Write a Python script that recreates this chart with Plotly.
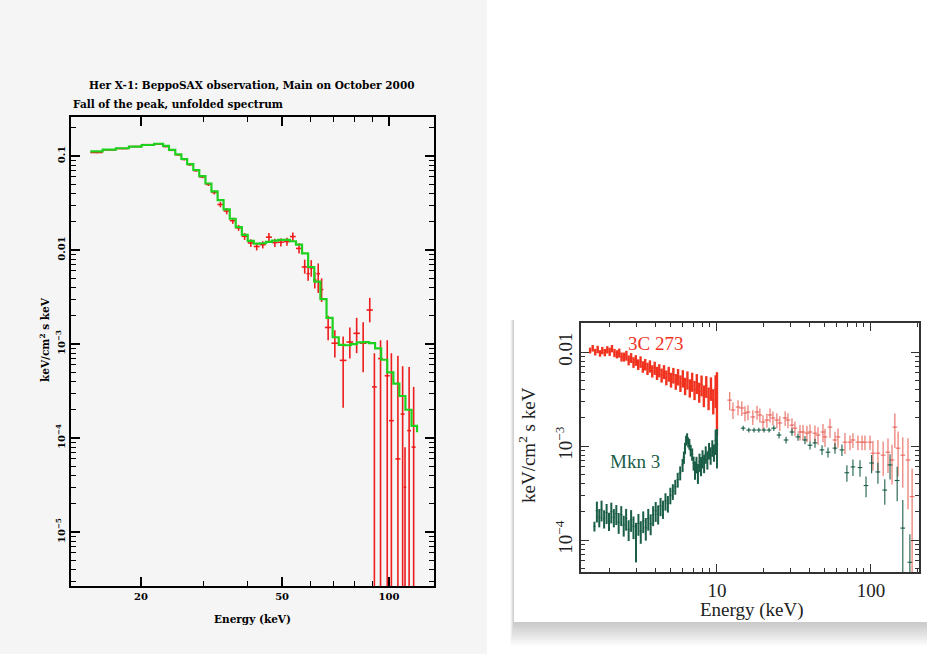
import plotly.graph_objects as go

W, H = 927, 654

# ---------------- Her X-1, BeppoSAX (left panel) ----------------
# model: step histogram, left bin edges (keV) and flux in each bin
model_e = [14.4, 15.6, 17.0, 18.5, 20.1, 21.8, 23.1, 24.0, 25.0, 26.0, 27.0, 28.1,
           29.2, 30.4, 31.6, 32.9, 34.2, 35.6, 37.0, 38.5, 40.0, 41.6, 43.3, 45.0,
           46.8, 48.7, 50.6, 52.6, 54.7, 56.9, 59.2, 61.6, 64.1, 66.7, 69.4, 72.2,
           75.1, 78.1, 81.2, 84.5, 87.9, 91.4, 95.1, 98.9, 102.9, 107.0, 111.3,
           115.8, 120.0]
model_f = [0.112, 0.117, 0.121, 0.126, 0.131, 0.135, 0.128, 0.116, 0.104, 0.093,
           0.082, 0.071, 0.061, 0.051, 0.042, 0.034, 0.027, 0.0215, 0.0175, 0.0145,
           0.0125, 0.0117, 0.0118, 0.0122, 0.0126, 0.0128, 0.0128, 0.0124, 0.0114,
           0.0092, 0.0066, 0.0046, 0.0030, 0.0019, 0.00118, 0.00098, 0.00097,
           0.00100, 0.00104, 0.00105, 0.00102, 0.00090, 0.00068, 0.00050, 0.00038,
           0.00028, 0.00020, 0.000135, 0.000115]

# data points: energy, flux, lower / upper bound, half bin width
her_e = [15.0, 16.3, 17.7, 19.3, 20.9, 22.4, 23.5, 24.5, 25.5, 26.5, 27.5, 28.6,
         29.8, 31.0, 32.2, 33.5, 34.9, 36.3, 37.7, 39.2, 40.8, 42.4, 44.1, 45.9,
         47.7, 49.6, 51.6, 53.6, 55.8, 57.9, 59.2, 60.4, 61.8, 63.2, 64.6, 67.4,
         70.4, 74.3, 77.6, 81.1, 84.6, 88.3, 91.0, 94.7, 98.9, 101.6, 106.0,
         109.3, 111.0, 114.0, 117.4]
her_f = [0.109, 0.116, 0.120, 0.126, 0.132, 0.134, 0.126, 0.115, 0.103, 0.092,
         0.081, 0.070, 0.060, 0.050, 0.041, 0.0305, 0.0260, 0.0205, 0.0172, 0.0140,
         0.0119, 0.0109, 0.0114, 0.0137, 0.0120, 0.0121, 0.0123, 0.0139, 0.0104,
         0.0066, 0.0056, 0.0064, 0.0048, 0.0056, 0.0038, 0.0015, 0.00102, 0.00067,
         0.00105, 0.0013, 0.00102, 0.0023, 0.00035, 0.00070, 0.00046, 0.000153,
         6.0e-5, 0.00018, 3.0e-5, 0.00012, 8.0e-5]
her_lo = [0.107, 0.114, 0.118, 0.124, 0.130, 0.132, 0.124, 0.113, 0.101, 0.090,
          0.079, 0.068, 0.058, 0.048, 0.039, 0.0285, 0.0240, 0.0190, 0.0160, 0.0128,
          0.0108, 0.0099, 0.0104, 0.0122, 0.0108, 0.0109, 0.0111, 0.0124, 0.0092,
          0.0056, 0.0047, 0.0052, 0.0039, 0.0035, 0.0028, 0.0011, 0.00072, 0.00021,
          0.00070, 0.00080, 0.00050, 0.0017, 1e-6, 1e-6, 1e-6, 1e-6, 1e-6, 1e-6,
          1e-6, 1e-6, 1e-6]
her_hi = [0.111, 0.118, 0.122, 0.128, 0.134, 0.136, 0.128, 0.117, 0.105, 0.094,
          0.083, 0.072, 0.062, 0.052, 0.043, 0.0325, 0.0280, 0.0220, 0.0185, 0.0152,
          0.0130, 0.0119, 0.0124, 0.0152, 0.0132, 0.0133, 0.0135, 0.0154, 0.0118,
          0.0079, 0.0066, 0.0078, 0.0058, 0.0072, 0.0050, 0.0020, 0.0014, 0.0012,
          0.0015, 0.0019, 0.0017, 0.0031, 0.00080, 0.0011, 0.0011, 0.00080,
          0.00075, 0.00058, 8.0e-5, 0.00057, 0.00035]
her_dx = [0.6, 0.65, 0.7, 0.75, 0.8, 0.7, 0.45, 0.5, 0.5, 0.5, 0.5, 0.55, 0.6, 0.6,
          0.6, 0.65, 0.7, 0.7, 0.75, 0.75, 0.8, 0.8, 0.85, 0.9, 0.9, 0.95, 1.0, 1.0,
          1.1, 1.1, 0.6, 0.6, 0.7, 0.7, 0.7, 1.4, 1.5, 1.6, 1.7, 1.7, 1.8, 1.8, 1.4,
          1.5, 1.6, 1.6, 1.7, 1.4, 0.9, 1.4, 1.5]

# ---------------- 3C 273 and Mkn 3 (right panel) ----------------
c273_e = [1.50, 1.56, 1.62, 1.68, 1.74, 1.80, 1.87, 1.94, 2.01, 2.08, 2.16, 2.24,
          2.32, 2.40, 2.49, 2.58, 2.67, 2.77, 2.87, 2.97, 3.08, 3.19, 3.30, 3.42,
          3.54, 3.67, 3.80, 3.94, 4.08, 4.22, 4.37, 4.53, 4.69, 4.86, 5.03, 5.21,
          5.40, 5.59, 5.79, 6.00, 6.21, 6.43, 6.66, 6.90, 7.15, 7.40, 7.67, 7.94,
          8.22, 8.52, 8.82, 9.14, 9.46, 9.80, 10.0]
c273_f = [0.0104, 0.0110, 0.0100, 0.0107, 0.0097, 0.0104, 0.0099, 0.0106, 0.0101,
          0.0109, 0.0098, 0.0095, 0.0098, 0.0089, 0.0089, 0.0092, 0.0082, 0.0087,
          0.0078, 0.0082, 0.0074, 0.0079, 0.0070, 0.0074, 0.0067, 0.0071, 0.0063,
          0.0068, 0.0060, 0.0064, 0.0057, 0.0062, 0.0054, 0.0059, 0.0051, 0.0057,
          0.0049, 0.0055, 0.0047, 0.0053, 0.0044, 0.0051, 0.0042, 0.0049, 0.0040,
          0.0047, 0.0038, 0.0045, 0.0035, 0.0044, 0.0033, 0.0042, 0.0031, 0.0041,
          0.0037]
c273_rel = [0.07, 0.08, 0.08, 0.09, 0.08, 0.09, 0.09, 0.09, 0.1, 0.09, 0.1, 0.1,
            0.11, 0.11, 0.11, 0.12, 0.12, 0.12, 0.13, 0.13, 0.13, 0.14, 0.14, 0.14,
            0.15, 0.15, 0.15, 0.16, 0.16, 0.16, 0.17, 0.17, 0.18, 0.18, 0.18, 0.19,
            0.19, 0.2, 0.2, 0.21, 0.21, 0.22, 0.22, 0.23, 0.23, 0.24, 0.24, 0.25,
            0.26, 0.26, 0.27, 0.28, 0.3, 0.38, 0.65]

mkn3_e = [1.60, 1.66, 1.72, 1.78, 1.85, 1.92, 1.99, 2.06, 2.14, 2.22, 2.30, 2.39,
          2.48, 2.57, 2.67, 2.77, 2.87, 2.98, 3.09, 3.20, 3.32, 3.45, 3.58, 3.71,
          3.85, 4.00, 4.15, 4.30, 4.46, 4.63, 4.80, 4.98, 5.17, 5.36, 5.56, 5.77,
          5.98, 6.10, 6.20, 6.30, 6.40, 6.50, 6.62, 6.75, 6.90, 7.05, 7.20, 7.36,
          7.52, 7.70, 7.88, 8.06, 8.25, 8.45, 8.66, 8.88, 9.10, 9.33, 9.56, 9.80,
          10.0]
mkn3_f = [1.40e-4, 2.05e-4, 1.75e-4, 2.10e-4, 1.70e-4, 1.95e-4, 1.60e-4, 2.00e-4,
          1.75e-4, 1.90e-4, 1.55e-4, 1.85e-4, 1.45e-4, 1.70e-4, 1.30e-4, 1.65e-4,
          1.40e-4, 1.05e-4, 1.50e-4, 1.25e-4, 1.60e-4, 1.35e-4, 1.70e-4, 1.50e-4,
          1.85e-4, 2.05e-4, 1.90e-4, 2.30e-4, 2.15e-4, 2.60e-4, 2.45e-4, 3.00e-4,
          3.30e-4, 3.70e-4, 4.40e-4, 5.20e-4, 6.30e-4, 7.60e-4, 9.50e-4, 1.15e-3,
          1.22e-3, 1.10e-3, 1.05e-3, 9.0e-4, 8.2e-4, 6.6e-4, 5.6e-4, 6.4e-4, 5.2e-4,
          6.8e-4, 6.2e-4, 7.4e-4, 6.6e-4, 8.2e-4, 7.2e-4, 9.0e-4, 8.0e-4, 9.6e-4,
          8.6e-4, 1.15e-3, 1.05e-3]
mkn3_rel = [0.12, 0.25, 0.22, 0.25, 0.22, 0.24, 0.22, 0.25, 0.22, 0.24, 0.25, 0.24,
            0.25, 0.26, 0.25, 0.26, 0.27, 0.45, 0.26, 0.27, 0.26, 0.27, 0.26, 0.25,
            0.24, 0.24, 0.23, 0.22, 0.22, 0.21, 0.2, 0.2, 0.19, 0.18, 0.18, 0.17,
            0.16, 0.15, 0.14, 0.12, 0.12, 0.12, 0.13, 0.14, 0.15, 0.17, 0.22, 0.2,
            0.24, 0.22, 0.23, 0.22, 0.22, 0.21, 0.22, 0.2, 0.21, 0.2, 0.21, 0.3, 0.45]

c273_hx_e = [12.1, 12.7, 13.7, 14.5, 15.2, 15.9, 17.1, 18.2, 19.0, 19.9, 21.1, 22.1,
             23.1, 24.5, 25.6, 27.7, 28.9, 30.7, 32.1, 34.6, 36.2, 38.4, 40.2, 43.3,
             45.3, 48.8, 50.3, 54.2, 58.4, 61.1, 67.8, 73.1, 76.4, 82.3, 87.5, 91.4,
             98.6, 103, 111, 120, 129, 137, 143, 150, 161, 174, 185]
c273_hx_f = [0.00308, 0.00242, 0.0026, 0.00254, 0.00224, 0.0023, 0.00204, 0.0023,
             0.00214, 0.0018, 0.00189, 0.00214, 0.00199, 0.00189, 0.00176, 0.00199,
             0.00189, 0.00167, 0.00155, 0.00141, 0.00141, 0.00137, 0.00141, 0.00137,
             0.00131, 0.00141, 0.00125, 0.00159, 0.00116, 0.00125, 0.0011, 0.0011,
             0.00116, 0.0011, 0.0011, 0.0011, 0.0011, 0.00084, 0.00084, 0.0008,
             0.00086, 0.00071, 0.00159, 0.00095, 0.0008, 0.00071, 0.00029]
c273_hx_rel = [0.22, 0.2, 0.18, 0.18, 0.18, 0.18, 0.18, 0.17, 0.17, 0.18, 0.17, 0.17,
               0.17, 0.18, 0.18, 0.18, 0.18, 0.18, 0.18, 0.19, 0.19, 0.2, 0.2, 0.21,
               0.21, 0.22, 0.22, 0.23, 0.22, 0.23, 0.25, 0.18, 0.18, 0.18, 0.18,
               0.18, 0.18, 0.35, 0.38, 0.4, 0.4, 0.45, 0.4, 0.5, 0.55, 0.7, 0.99]

mkn3_hx_e = [14.8, 16.1, 17.4, 18.7, 20.2, 21.8, 23.4, 25.3, 28.1, 30.7, 33.6, 37.3,
             40.2, 43.3, 48.1, 52.6, 58.4, 64.8, 69.8, 76.4, 84.9, 92.9, 101, 111,
             123, 133, 148, 161, 179]
mkn3_hx_f = [0.00155, 0.00148, 0.00148, 0.00148, 0.00148, 0.00148, 0.00155, 0.00131,
             0.00116, 0.00141, 0.00125, 0.00116, 0.00102, 0.00108, 0.00091, 0.00086,
             0.00095, 0.00091, 0.00052, 0.0006, 0.00059, 0.00038, 0.00066, 0.00053,
             0.00034, 0.00063, 0.00043, 0.000134, 5.8e-5]
mkn3_hx_rel = [0.06, 0.06, 0.06, 0.06, 0.06, 0.06, 0.07, 0.08, 0.08, 0.09, 0.09, 0.1,
               0.1, 0.11, 0.12, 0.12, 0.13, 0.14, 0.2, 0.2, 0.2, 0.25, 0.22, 0.25,
               0.3, 0.3, 0.4, 0.99, 0.99]

RED = "#ee1c1c"
GREEN = "#1fd11f"
C_RED = "#f0321e"
C_RED_LT = "#e86a60"
TEAL = "#1a5e48"


def errs(f, rel):
    return [v * r for v, r in zip(f, rel)]


fig = go.Figure()

# left: data with error bars, then model on top
fig.add_trace(go.Scatter(
    x=her_e, y=her_f, mode="markers",
    marker=dict(size=1, color=RED),
    error_y=dict(type="data", symmetric=False,
                 array=[h - f for h, f in zip(her_hi, her_f)],
                 arrayminus=[f - l for f, l in zip(her_f, her_lo)],
                 color=RED, thickness=1.6, width=0),
    error_x=dict(type="data", array=her_dx, color=RED, thickness=1.6, width=0),
    xaxis="x", yaxis="y", showlegend=False))
fig.add_trace(go.Scatter(
    x=model_e, y=model_f + [model_f[-1]], mode="lines", line_shape="hv",
    line=dict(color=GREEN, width=2.2), xaxis="x", yaxis="y", showlegend=False))

# right: 3C 273 and Mkn 3
for e, f, rel, col, th, tx in [(c273_e, c273_f, c273_rel, C_RED, 2.4, 0.8),
                               (mkn3_e, mkn3_f, mkn3_rel, TEAL, 2.0, 0.8),
                               (c273_hx_e, c273_hx_f, c273_hx_rel, C_RED_LT, 1.1, 1.1),
                               (mkn3_hx_e, mkn3_hx_f, mkn3_hx_rel, TEAL, 1.1, 1.1)]:
    dx = [v * (0.019 if v < 11 else 0.035) for v in e]
    fig.add_trace(go.Scatter(
        x=e, y=f, mode="markers", marker=dict(size=1, color=col),
        error_y=dict(type="data", array=errs(f, rel), color=col, thickness=th, width=0),
        error_x=dict(type="data", array=dx, color=col, thickness=tx, width=0),
        xaxis="x2", yaxis="y2", showlegend=False))


def px(x):
    return x / W


def py(y):
    return 1 - y / H


def note(text, x, y, font, angle=0, anchor="center"):
    return dict(text=text, x=px(x), y=py(y), xref="paper", yref="paper",
                showarrow=False, xanchor=anchor, yanchor="middle",
                textangle=angle, font=font)


LFONT = dict(family="DejaVu Serif", size=10.5, color="black")
RFONT = dict(family="Liberation Serif", size=19, color="#222")

left_ax = dict(type="log", showgrid=False, zeroline=False, showline=True,
               linecolor="black", linewidth=2, mirror="ticks", ticks="inside",
               ticklen=9, tickwidth=1.5, tickcolor="black",
               tickfont=dict(family="DejaVu Serif", size=10, color="black"))
right_ax = dict(type="log", showgrid=False, zeroline=False, showline=True,
                linecolor="#333", linewidth=1.5, mirror="ticks", ticks="inside",
                ticklen=8, tickwidth=1.2, tickcolor="#333",
                tickfont=dict(family="Liberation Serif", size=19, color="#222"))

# soft drop shadow under the right-hand panel, then the white card itself
shadow = [dict(type="rect", xref="paper", yref="paper", x0=px(514 - k * 0.4), x1=1,
               y0=py(622 + k * 2.6), y1=py(320),
               fillcolor="rgba(0,0,0,0.022)", line_width=0, layer="below")
          for k in range(9, 0, -1)]

fig.update_layout(
    width=W, height=H, margin=dict(l=0, r=0, t=0, b=0),
    paper_bgcolor="white", plot_bgcolor="rgba(0,0,0,0)",
    xaxis=dict(left_ax, domain=[px(71), px(434)], anchor="y", range=[1.104, 2.127],
               tickmode="array", tickvals=[20, 50, 100],
               ticktext=["<b>20</b>", "<b>50</b>", "<b>100</b>"],
               minor=dict(tickvals=[30, 40, 60, 70, 80, 90], ticklen=5, ticks="inside",
                          tickcolor="black", tickwidth=1.2)),
    yaxis=dict(left_ax, domain=[py(586), py(117)], anchor="x", range=[-5.574, -0.585],
               tickmode="array", tickvals=[0.1, 0.01, 1e-3, 1e-4, 1e-5],
               ticktext=["<b>0.1</b>", "<b>0.01</b>", "<b>10<sup>−3</sup></b>",
                         "<b>10<sup>−4</sup></b>", "<b>10<sup>−5</sup></b>"],
               tickangle=-90,
               minor=dict(tickvals=[k * 10.0 ** p for p in range(-6, 0) for k in range(2, 10)],
                          ticklen=5, ticks="inside", tickcolor="black", tickwidth=1.2)),
    xaxis2=dict(right_ax, domain=[px(581), px(919)], anchor="y2", range=[0.117, 2.312],
                tickmode="array", tickvals=[10, 100], ticktext=["10", "100"],
                minor=dict(tickvals=[k * 10.0 ** p for p in range(0, 3) for k in range(2, 10)],
                           ticklen=4, ticks="inside", tickcolor="#333", tickwidth=1.1)),
    yaxis2=dict(right_ax, domain=[py(572), py(323)], anchor="x2", range=[-4.34, -1.691],
                tickmode="array", tickvals=[0.01, 1e-3, 1e-4],
                ticktext=["0.01", "10<sup>−3</sup>", "10<sup>−4</sup>"], tickangle=-90,
                minor=dict(tickvals=[k * 10.0 ** p for p in range(-5, -1) for k in range(2, 10)],
                           ticklen=4, ticks="inside", tickcolor="#333", tickwidth=1.1)),
    shapes=[dict(type="rect", xref="paper", yref="paper", x0=0, x1=px(487), y0=0, y1=1,
                 fillcolor="#f5f5f5", line_width=0, layer="below")]
    + shadow
    + [dict(type="rect", xref="paper", yref="paper", x0=px(514), x1=1, y0=py(622), y1=py(318),
            fillcolor="white", line_width=0, layer="below")],
    annotations=[
        note("<b>Her X-1: BeppoSAX observation, Main on October 2000</b>", 252, 85, LFONT),
        note("<b>Fall of the peak, unfolded spectrum</b>", 71, 104, LFONT, anchor="left"),
        note("<b>Energy (keV)</b>", 252, 619, LFONT),
        note("<b>keV/cm<sup>2</sup> s keV</b>", 45, 340, LFONT, angle=-90),
        note("Energy (keV)", 752, 610, RFONT),
        note("keV/cm<sup>2</sup> s keV", 527, 445, RFONT, angle=-90),
        note("3C 273", 655, 343, dict(RFONT, color=C_RED)),
        note("Mkn 3", 635, 461, dict(RFONT, color=TEAL)),
    ],
)

fig.write_html("out.html", config={"displayModeBar": False},
               post_script="document.body.style.margin='0';")
